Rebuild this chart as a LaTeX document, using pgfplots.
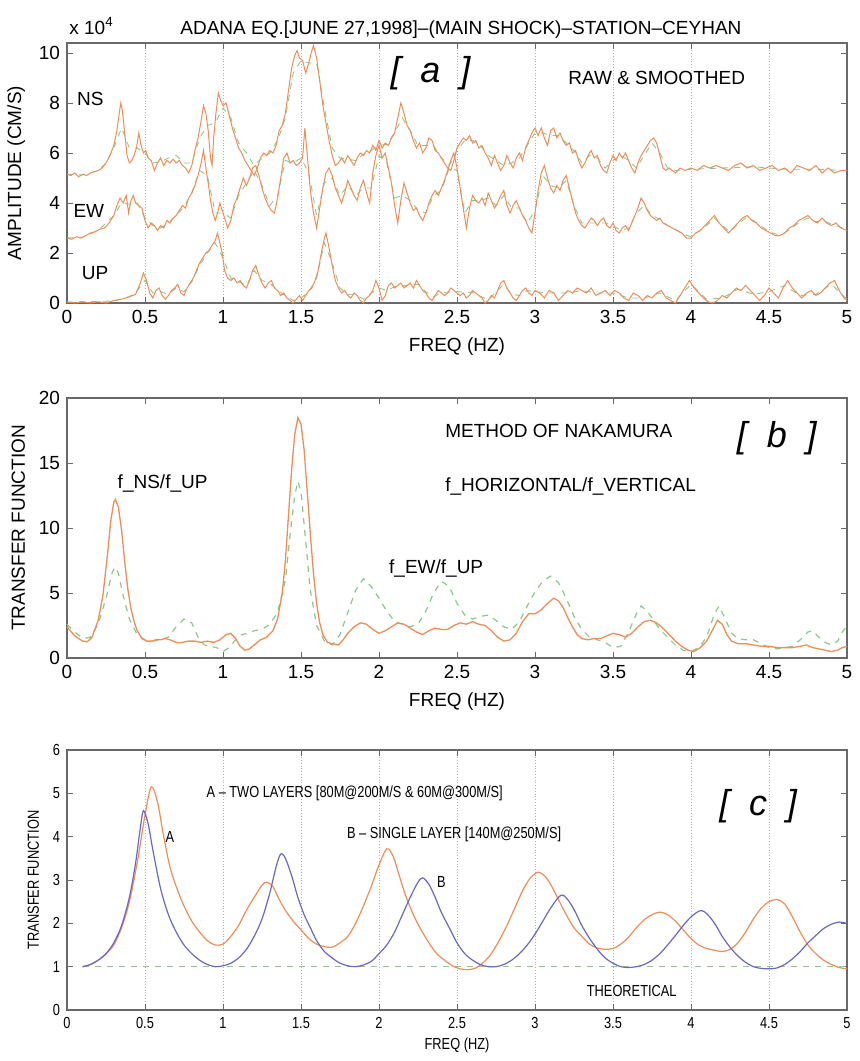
\documentclass[border=0pt]{standalone}
\usepackage{fontspec}
\setmainfont{Liberation Sans}
\newfontfamily\narrowfont[FakeStretch=0.8, Ligatures=TeX]{Liberation Sans}
\usepackage{pgfplots}
\pgfplotsset{compat=1.18}

\definecolor{matorange}{RGB}{236,142,88}
\definecolor{matgreen}{RGB}{140,200,140}
\definecolor{matblue}{RGB}{105,105,195}
\definecolor{axisgray}{RGB}{105,105,105}

\pgfplotsset{
  panel/.style={
    scale only axis, width=390pt, height=130pt,
    xmin=0, xmax=5, xtick={0,0.5,1,1.5,2,2.5,3,3.5,4,4.5,5},
    axis line style={draw=axisgray, line width=0.6pt},
    tick style={draw=axisgray, line width=0.5pt},
    major tick length=3pt,
    /pgf/number format/assume math mode=true,
    clip=false,
    xlabel={FREQ (HZ)},
  },
  bigfont/.style={
    tick label style={font=\fontsize{9.5}{11}\selectfont},
    label style={font=\fontsize{9.5}{11}\selectfont},
  },
  grid dots/.style={xmajorgrids, major grid style={densely dotted, gray!60, line width=0.4pt}},
  raw/.style={matorange, line width=0.5pt},
  smooth line/.style={matgreen, dashed, line width=0.45pt},
}
\newcommand{\txt}{\fontsize{9.5}{11}\selectfont}
\newcommand{\brk}[1]{\fontsize{18}{20}\selectfont\itshape [\hspace{0.55em}#1\hspace{0.55em}]}

\begin{document}
\begin{tikzpicture}
\useasboundingbox (0,0) rectangle (429.5pt,-530.5pt);

% ---------------- panel a
\begin{axis}[panel, bigfont, grid dots,
  at={(33.5pt,-151.5pt)}, anchor=south west,
  ymin=0, ymax=10.4, ytick={0,2,4,6,8,10},
  ylabel={AMPLITUDE (CM/S)},
]
% smoothed
\addplot[smooth line] coordinates {(0,5.15)(0.1,5.12)(0.2,5.3)(0.25,5.6)(0.3,6.2)(0.35,7.0)(0.4,6.2)(0.45,6.2)(0.5,6.0)(0.55,5.6)(0.6,5.65)(0.65,5.8)(0.7,5.9)(0.75,5.6)(0.8,5.6)(0.85,6.6)(0.9,7.1)(0.95,7.2)(1.0,7.8)(1.05,7.4)(1.1,6.4)(1.15,6.0)(1.2,5.5)(1.25,5.8)(1.3,6.0)(1.35,6.5)(1.4,7.4)(1.45,9.2)(1.5,9.7)(1.55,9.6)(1.6,9.6)(1.65,7.8)(1.7,6.2)(1.75,5.8)(1.8,5.75)(1.85,5.7)(1.9,5.95)(1.95,6.1)(2.0,6.3)(2.05,6.35)(2.1,6.8)(2.15,7.4)(2.2,6.9)(2.25,6.3)(2.3,6.3)(2.35,6.3)(2.4,5.8)(2.45,5.5)(2.5,6.1)(2.55,6.5)(2.6,6.5)(2.65,6.3)(2.7,5.9)(2.75,5.7)(2.8,5.5)(2.85,5.6)(2.9,5.8)(2.95,6.3)(3.0,6.8)(3.05,6.8)(3.1,6.7)(3.15,6.7)(3.2,6.4)(3.25,6.1)(3.3,5.6)(3.35,5.9)(3.4,5.8)(3.45,5.4)(3.5,5.7)(3.55,5.9)(3.6,5.7)(3.65,5.4)(3.7,5.9)(3.75,6.4)(3.8,6.0)(3.85,5.4)(3.9,5.3)(4.0,5.35)(4.2,5.4)(4.4,5.45)(4.6,5.35)(4.8,5.35)(5.0,5.3)};
\addplot[smooth line] coordinates {(0,2.6)(0.1,2.63)(0.2,2.9)(0.3,3.5)(0.35,4.0)(0.4,3.95)(0.45,4.0)(0.5,3.4)(0.55,3.1)(0.6,3.0)(0.65,3.2)(0.7,3.5)(0.75,3.85)(0.8,4.4)(0.85,5.3)(0.9,5.1)(0.95,3.6)(1.0,3.6)(1.05,3.4)(1.1,4.3)(1.15,4.8)(1.2,5.3)(1.25,4.7)(1.3,3.9)(1.35,4.3)(1.4,5.7)(1.45,5.6)(1.5,5.8)(1.55,5.2)(1.6,3.5)(1.65,4.8)(1.7,5.0)(1.75,4.3)(1.8,4.7)(1.85,4.3)(1.9,4.6)(1.95,4.6)(2.0,5.9)(2.05,5.6)(2.1,4.2)(2.15,4.3)(2.2,4.1)(2.25,3.7)(2.3,3.6)(2.35,4.3)(2.4,4.5)(2.45,5.4)(2.5,5.3)(2.55,3.6)(2.6,4.1)(2.65,4.1)(2.7,4.2)(2.75,3.9)(2.8,4.3)(2.85,3.8)(2.9,3.8)(2.95,3.2)(3.0,3.7)(3.05,5.1)(3.1,4.7)(3.15,4.6)(3.2,4.9)(3.25,3.9)(3.3,3.2)(3.35,3.2)(3.4,3.2)(3.45,3.2)(3.5,3.1)(3.55,2.9)(3.6,3.0)(3.65,3.6)(3.7,3.9)(3.75,3.5)(3.8,3.35)(3.85,3.1)(3.9,2.95)(3.95,2.75)(4.0,2.65)(4.1,3.1)(4.15,3.4)(4.2,3.1)(4.25,2.85)(4.3,3.15)(4.35,3.4)(4.4,3.3)(4.5,2.85)(4.55,2.75)(4.6,2.8)(4.7,3.25)(4.75,3.4)(4.8,3.25)(4.85,3.3)(4.9,3.15)(5.0,2.95)};
\addplot[smooth line] coordinates {(0,0.03)(0.3,0.08)(0.4,0.25)(0.45,0.5)(0.5,0.9)(0.55,0.4)(0.6,0.45)(0.65,0.35)(0.7,0.6)(0.75,0.45)(0.8,0.85)(0.85,1.5)(0.9,2.0)(0.95,2.4)(1.0,1.8)(1.05,1.0)(1.1,0.85)(1.15,0.7)(1.2,1.3)(1.25,0.9)(1.3,0.8)(1.35,0.5)(1.4,0.3)(1.45,0.1)(1.5,0.2)(1.55,0.45)(1.6,1.0)(1.65,2.4)(1.7,1.6)(1.75,0.6)(1.8,0.35)(1.85,0.35)(1.9,0.15)(1.95,0.4)(2.0,0.6)(2.05,0.5)(2.1,0.65)(2.2,0.72)(2.25,0.75)(2.3,0.45)(2.35,0.25)(2.4,0.42)(2.5,0.45)(2.6,0.42)(2.7,0.12)(2.8,0.75)(2.85,0.35)(2.9,0.3)(2.95,0.5)(3.0,0.45)(3.1,0.4)(3.2,0.4)(3.3,0.5)(3.4,0.4)(3.5,0.4)(3.6,0.2)(3.7,0.2)(3.8,0.4)(3.9,0.1)(4.0,0.75)(4.1,0.15)(4.2,0.2)(4.3,0.55)(4.4,0.35)(4.5,0.45)(4.6,0.7)(4.7,0.3)(4.8,0.35)(4.9,0.75)(5.0,0.15)};
% raw NS
\addplot[raw] coordinates {(0,5.15)(0.025,5.1)(0.05,5.2)(0.075,5.05)(0.1,5.15)(0.125,5.1)(0.15,5.2)(0.175,5.25)(0.2,5.3)(0.225,5.4)(0.25,5.6)(0.275,5.9)(0.3,6.3)(0.32,6.9)(0.335,7.6)(0.345,8.0)(0.355,7.7)(0.37,6.8)(0.385,5.9)(0.4,5.6)(0.415,5.7)(0.43,5.9)(0.445,6.2)(0.46,6.8)(0.475,6.3)(0.49,6.0)(0.505,6.1)(0.52,5.8)(0.54,5.7)(0.56,5.3)(0.58,5.6)(0.6,5.8)(0.62,5.5)(0.64,5.7)(0.66,5.6)(0.68,5.75)(0.7,5.6)(0.72,5.7)(0.74,5.5)(0.76,5.4)(0.78,5.2)(0.8,5.5)(0.82,6.1)(0.84,6.6)(0.86,7.3)(0.875,7.9)(0.89,7.6)(0.905,6.9)(0.92,5.8)(0.93,5.5)(0.94,6.6)(0.955,7.6)(0.97,8.4)(0.985,8.1)(1.0,7.9)(1.02,8.0)(1.04,7.5)(1.06,7.0)(1.08,6.6)(1.1,6.2)(1.12,6.0)(1.14,5.7)(1.16,5.5)(1.18,5.3)(1.2,5.1)(1.22,5.4)(1.24,5.8)(1.26,6.0)(1.28,5.9)(1.3,6.1)(1.32,6.0)(1.34,6.3)(1.36,6.9)(1.38,7.1)(1.4,7.6)(1.42,8.5)(1.44,9.4)(1.46,9.9)(1.475,10.1)(1.49,9.8)(1.51,9.7)(1.53,9.2)(1.55,9.6)(1.565,10.0)(1.58,10.3)(1.6,9.8)(1.62,8.9)(1.64,7.9)(1.66,7.2)(1.68,6.5)(1.7,5.9)(1.72,5.5)(1.74,5.6)(1.76,5.8)(1.78,5.6)(1.8,5.9)(1.82,5.7)(1.84,5.5)(1.86,5.8)(1.88,6.0)(1.9,5.9)(1.92,6.1)(1.94,6.0)(1.96,6.3)(1.98,6.1)(2.0,6.5)(2.02,6.2)(2.04,6.4)(2.06,6.3)(2.08,6.6)(2.1,6.8)(2.12,7.4)(2.14,8.0)(2.16,7.6)(2.18,7.1)(2.2,6.9)(2.22,6.5)(2.24,6.2)(2.26,6.4)(2.28,6.0)(2.3,6.2)(2.32,6.6)(2.34,6.5)(2.36,6.1)(2.38,6.0)(2.4,5.8)(2.42,5.6)(2.44,5.4)(2.46,5.3)(2.48,5.7)(2.5,6.2)(2.52,6.4)(2.54,6.6)(2.56,6.5)(2.58,6.7)(2.6,6.4)(2.62,6.5)(2.64,6.2)(2.66,6.3)(2.68,6.0)(2.7,5.8)(2.72,5.5)(2.74,5.9)(2.76,5.6)(2.78,5.3)(2.8,5.5)(2.82,5.9)(2.84,5.6)(2.86,5.4)(2.88,5.8)(2.9,6.0)(2.92,5.7)(2.94,6.2)(2.96,6.5)(2.98,6.8)(3.0,7.0)(3.02,6.7)(3.04,7.0)(3.06,6.6)(3.08,6.3)(3.1,6.9)(3.12,7.0)(3.14,6.6)(3.16,6.8)(3.18,6.5)(3.2,6.3)(3.22,6.4)(3.24,6.0)(3.26,6.1)(3.28,5.7)(3.3,5.4)(3.32,5.6)(3.34,5.9)(3.36,6.1)(3.38,5.8)(3.4,5.9)(3.42,5.5)(3.44,5.3)(3.46,5.2)(3.48,5.6)(3.5,5.9)(3.52,5.7)(3.54,6.0)(3.56,5.8)(3.58,6.0)(3.6,5.7)(3.62,5.4)(3.64,5.2)(3.66,5.6)(3.68,5.9)(3.7,6.1)(3.72,6.3)(3.74,6.5)(3.76,6.6)(3.78,6.4)(3.8,5.9)(3.82,5.4)(3.84,5.3)(3.86,5.4)(3.88,5.3)(3.9,5.2)(3.93,5.4)(3.96,5.3)(4.0,5.4)(4.04,5.3)(4.08,5.5)(4.12,5.4)(4.16,5.5)(4.2,5.4)(4.24,5.3)(4.28,5.5)(4.32,5.6)(4.36,5.4)(4.4,5.5)(4.44,5.3)(4.48,5.4)(4.52,5.5)(4.56,5.3)(4.6,5.4)(4.64,5.2)(4.68,5.5)(4.72,5.4)(4.76,5.3)(4.8,5.5)(4.84,5.2)(4.88,5.4)(4.92,5.2)(4.96,5.3)(5.0,5.3)};
% raw EW
\addplot[raw] coordinates {(0,2.6)(0.03,2.55)(0.06,2.65)(0.09,2.6)(0.12,2.7)(0.15,2.8)(0.18,2.85)(0.21,2.95)(0.24,3.0)(0.27,3.2)(0.3,3.5)(0.32,3.9)(0.34,4.2)(0.36,4.0)(0.38,4.3)(0.395,3.6)(0.41,4.1)(0.425,4.3)(0.44,4.0)(0.46,3.9)(0.48,3.8)(0.5,3.3)(0.52,3.0)(0.54,3.2)(0.56,3.1)(0.58,2.9)(0.6,3.1)(0.62,3.0)(0.64,3.3)(0.66,3.2)(0.68,3.4)(0.7,3.5)(0.72,3.7)(0.74,3.9)(0.76,3.8)(0.78,4.2)(0.8,4.4)(0.82,4.7)(0.84,5.1)(0.86,5.6)(0.875,6.1)(0.89,5.4)(0.905,4.8)(0.92,4.1)(0.935,3.6)(0.95,3.3)(0.965,3.6)(0.98,4.0)(0.995,3.7)(1.01,3.4)(1.03,3.0)(1.05,3.3)(1.07,3.9)(1.09,4.2)(1.11,4.6)(1.13,5.0)(1.15,4.7)(1.17,5.0)(1.19,5.4)(1.21,5.5)(1.23,5.1)(1.25,4.6)(1.27,4.2)(1.29,3.9)(1.31,3.7)(1.33,3.6)(1.35,4.2)(1.37,5.0)(1.39,5.8)(1.41,6.0)(1.43,5.6)(1.45,5.7)(1.47,5.5)(1.49,5.6)(1.51,5.8)(1.525,7.0)(1.54,5.9)(1.56,4.5)(1.58,3.6)(1.6,3.0)(1.62,3.8)(1.64,4.6)(1.66,5.2)(1.68,5.4)(1.7,5.1)(1.72,4.6)(1.74,4.3)(1.76,4.0)(1.78,4.4)(1.8,4.9)(1.82,4.6)(1.84,4.3)(1.86,4.1)(1.88,4.6)(1.9,4.9)(1.92,4.4)(1.94,4.0)(1.96,5.2)(1.98,5.9)(2.0,6.3)(2.02,5.8)(2.04,6.0)(2.06,5.4)(2.08,4.8)(2.1,3.9)(2.12,3.2)(2.14,4.1)(2.16,4.8)(2.18,4.4)(2.2,4.0)(2.22,3.7)(2.24,3.8)(2.26,3.5)(2.28,3.3)(2.3,3.6)(2.32,4.0)(2.34,4.3)(2.36,4.5)(2.38,4.3)(2.4,4.6)(2.42,4.9)(2.44,5.3)(2.46,5.7)(2.48,6.0)(2.5,5.4)(2.52,4.6)(2.54,3.8)(2.56,3.0)(2.58,3.8)(2.6,4.3)(2.62,4.1)(2.64,4.0)(2.66,4.2)(2.68,3.9)(2.7,4.4)(2.72,4.1)(2.74,3.8)(2.76,4.0)(2.78,4.3)(2.8,4.5)(2.82,3.9)(2.84,3.6)(2.86,3.9)(2.88,4.1)(2.9,3.8)(2.92,3.5)(2.94,3.3)(2.96,3.0)(2.98,2.8)(3.0,3.6)(3.02,4.5)(3.04,5.2)(3.06,5.5)(3.08,5.0)(3.1,4.6)(3.12,4.4)(3.14,4.7)(3.16,4.5)(3.18,4.9)(3.2,5.1)(3.22,4.6)(3.24,4.1)(3.26,3.6)(3.28,3.3)(3.3,3.1)(3.32,3.0)(3.34,3.2)(3.36,3.4)(3.38,3.3)(3.4,3.1)(3.42,3.3)(3.44,3.4)(3.46,3.1)(3.48,3.0)(3.5,3.2)(3.52,2.9)(3.54,2.8)(3.56,3.0)(3.58,3.1)(3.6,2.9)(3.62,3.2)(3.64,3.5)(3.66,3.8)(3.68,4.2)(3.7,4.0)(3.72,3.7)(3.74,3.5)(3.76,3.4)(3.78,3.3)(3.8,3.4)(3.82,3.2)(3.85,3.1)(3.88,3.0)(3.91,2.9)(3.94,2.8)(3.97,2.6)(4.0,2.6)(4.03,2.8)(4.06,2.9)(4.09,3.1)(4.12,3.3)(4.15,3.5)(4.18,3.2)(4.21,3.0)(4.24,2.8)(4.27,3.0)(4.3,3.2)(4.33,3.4)(4.36,3.5)(4.39,3.3)(4.42,3.2)(4.45,3.0)(4.48,2.9)(4.51,2.8)(4.54,2.7)(4.57,2.7)(4.6,2.8)(4.63,3.0)(4.66,3.1)(4.69,3.3)(4.72,3.4)(4.75,3.5)(4.78,3.3)(4.81,3.2)(4.84,3.4)(4.87,3.2)(4.9,3.1)(4.93,3.2)(4.96,3.0)(5.0,2.9)};
% raw UP
\addplot[raw] coordinates {(0,0.05)(0.05,0.0)(0.1,0.05)(0.15,0.0)(0.2,0.05)(0.25,0.0)(0.3,0.1)(0.35,0.15)(0.4,0.25)(0.44,0.35)(0.47,0.8)(0.49,1.2)(0.51,0.9)(0.53,0.4)(0.55,0.2)(0.57,0.5)(0.59,0.6)(0.61,0.3)(0.63,0.15)(0.65,0.3)(0.67,0.5)(0.69,0.6)(0.71,0.75)(0.73,0.4)(0.75,0.3)(0.77,0.6)(0.79,0.8)(0.81,1.0)(0.83,1.3)(0.85,1.6)(0.87,1.8)(0.89,2.0)(0.91,2.1)(0.93,2.3)(0.95,2.5)(0.965,2.8)(0.98,2.4)(0.995,2.0)(1.01,1.3)(1.03,1.0)(1.05,0.9)(1.07,1.0)(1.09,0.8)(1.11,0.9)(1.13,0.7)(1.15,0.6)(1.17,0.9)(1.19,1.3)(1.21,1.5)(1.23,1.1)(1.25,0.8)(1.27,0.6)(1.29,0.8)(1.31,0.9)(1.33,0.6)(1.35,0.5)(1.37,0.3)(1.39,0.4)(1.41,0.2)(1.43,0.1)(1.45,0.0)(1.47,0.15)(1.49,0.3)(1.51,0.1)(1.53,0.3)(1.55,0.5)(1.57,0.6)(1.59,0.9)(1.61,1.3)(1.63,2.0)(1.65,2.6)(1.66,2.8)(1.68,2.2)(1.7,1.5)(1.72,0.9)(1.74,0.6)(1.76,0.4)(1.78,0.5)(1.8,0.3)(1.82,0.2)(1.84,0.4)(1.86,0.3)(1.88,0.1)(1.9,0.0)(1.92,0.2)(1.94,0.3)(1.96,0.5)(1.98,0.9)(2.0,0.6)(2.02,0.1)(2.04,0.3)(2.06,0.7)(2.08,0.8)(2.1,0.6)(2.12,0.7)(2.14,0.8)(2.16,0.6)(2.18,0.7)(2.2,0.8)(2.22,0.6)(2.24,0.9)(2.26,0.7)(2.28,0.5)(2.3,0.4)(2.32,0.2)(2.34,0.1)(2.36,0.3)(2.38,0.5)(2.4,0.4)(2.42,0.3)(2.44,0.4)(2.46,0.6)(2.48,0.5)(2.5,0.4)(2.52,0.3)(2.54,0.4)(2.56,0.2)(2.58,0.3)(2.6,0.5)(2.62,0.4)(2.64,0.3)(2.66,0.2)(2.68,0.0)(2.7,0.1)(2.72,0.3)(2.74,0.2)(2.76,0.5)(2.78,0.8)(2.8,0.9)(2.82,0.6)(2.84,0.4)(2.86,0.2)(2.88,0.1)(2.9,0.3)(2.92,0.5)(2.94,0.6)(2.96,0.4)(2.98,0.3)(3.0,0.5)(3.03,0.4)(3.06,0.2)(3.09,0.5)(3.12,0.4)(3.15,0.1)(3.18,0.3)(3.21,0.5)(3.24,0.4)(3.27,0.6)(3.3,0.5)(3.33,0.4)(3.36,0.6)(3.39,0.3)(3.42,0.4)(3.45,0.5)(3.48,0.3)(3.51,0.5)(3.54,0.4)(3.57,0.2)(3.6,0.1)(3.63,0.4)(3.66,0.3)(3.69,0.1)(3.72,0.3)(3.75,0.2)(3.78,0.4)(3.81,0.5)(3.84,0.2)(3.87,0.1)(3.9,0.0)(3.93,0.3)(3.96,0.6)(3.99,0.9)(4.02,0.6)(4.05,0.4)(4.08,0.2)(4.11,0.05)(4.14,0.0)(4.17,0.1)(4.2,0.3)(4.23,0.2)(4.26,0.4)(4.29,0.6)(4.32,0.5)(4.35,0.7)(4.38,0.5)(4.41,0.3)(4.44,0.1)(4.47,0.3)(4.5,0.6)(4.53,0.4)(4.56,0.2)(4.59,0.6)(4.62,0.9)(4.65,0.6)(4.68,0.4)(4.71,0.2)(4.74,0.4)(4.77,0.5)(4.8,0.3)(4.83,0.4)(4.86,0.6)(4.89,0.8)(4.92,0.9)(4.95,0.5)(4.98,0.2)(5.0,0.1)};
\node[font=\txt] at (axis cs:0.15,8.15) {NS};
\node[font=\txt] at (axis cs:0.14,3.7) {EW};
\node[font=\txt] at (axis cs:0.18,1.2) {UP};
\node at (axis cs:2.33,9.2) {\brk{a}};
\node[font=\txt] at (axis cs:3.78,9.0) {RAW \& SMOOTHED};
\node[font=\txt, anchor=base west, inner sep=0pt, yshift=4.5pt, xshift=1pt] at (rel axis cs:0,1) {x 10\textsuperscript{4}};
\node[font=\txt, anchor=base, inner sep=0pt, yshift=4.5pt] at (rel axis cs:0.505,1) {ADANA EQ.[JUNE 27,1998]--(MAIN SHOCK)--STATION--CEYHAN};
\end{axis}

% ---------------- panel b
\begin{axis}[panel, bigfont,
  at={(33.5pt,-329pt)}, anchor=south west,
  ymin=0, ymax=20, ytick={0,5,10,15,20},
  ylabel={TRANSFER FUNCTION},
]
\addplot[matgreen, dashed, line width=0.6pt] coordinates {(0,2.6)(0.05,2.0)(0.1,1.5)(0.15,1.6)(0.2,2.6)(0.25,4.6)(0.29,6.6)(0.31,7.0)(0.33,6.5)(0.36,4.8)(0.4,3.0)(0.45,1.8)(0.5,1.4)(0.55,1.3)(0.6,1.4)(0.65,1.6)(0.7,2.4)(0.75,3.0)(0.8,2.7)(0.84,1.6)(0.88,1.0)(0.92,0.9)(0.96,0.8)(1.0,0.5)(1.04,0.8)(1.08,1.4)(1.12,1.8)(1.16,1.9)(1.2,2.1)(1.25,2.2)(1.3,2.6)(1.35,3.5)(1.4,6.0)(1.43,9.5)(1.46,12.5)(1.48,13.6)(1.5,12.8)(1.53,9.0)(1.56,5.2)(1.6,2.5)(1.65,1.3)(1.7,1.0)(1.75,1.8)(1.8,3.5)(1.85,5.2)(1.9,6.1)(1.95,5.5)(2.0,4.6)(2.05,3.6)(2.1,2.8)(2.15,2.6)(2.2,2.4)(2.25,2.6)(2.3,3.6)(2.35,5.0)(2.4,5.9)(2.45,5.5)(2.5,4.2)(2.55,3.3)(2.6,3.0)(2.65,3.2)(2.7,3.3)(2.75,2.9)(2.8,2.4)(2.85,2.2)(2.9,2.8)(2.95,4.0)(3.0,5.1)(3.05,5.9)(3.1,6.3)(3.15,5.8)(3.2,4.6)(3.25,3.2)(3.3,2.2)(3.35,1.6)(3.4,1.4)(3.45,1.2)(3.5,0.8)(3.55,0.9)(3.6,2.0)(3.65,3.4)(3.68,4.0)(3.72,3.6)(3.76,2.9)(3.8,2.2)(3.85,1.6)(3.9,1.0)(3.95,0.6)(4.0,0.5)(4.05,0.8)(4.1,1.6)(4.15,3.4)(4.18,4.0)(4.22,3.0)(4.26,1.9)(4.3,1.5)(4.35,1.4)(4.4,1.4)(4.45,1.1)(4.5,0.8)(4.55,0.7)(4.6,0.8)(4.65,0.9)(4.7,1.4)(4.75,2.0)(4.78,2.1)(4.82,1.6)(4.86,1.2)(4.9,1.0)(4.94,1.3)(4.97,2.0)(5.0,2.5)};
\addplot[matorange, line width=0.65pt] coordinates {(0,2.4)(0.05,1.7)(0.1,1.3)(0.13,1.25)(0.16,1.6)(0.2,2.9)(0.23,4.8)(0.26,8.0)(0.28,10.5)(0.3,12.0)(0.31,12.2)(0.33,11.6)(0.35,9.8)(0.37,7.4)(0.39,5.3)(0.41,3.8)(0.43,2.8)(0.45,2.1)(0.48,1.5)(0.51,1.3)(0.54,1.3)(0.57,1.4)(0.6,1.4)(0.63,1.5)(0.66,1.4)(0.7,1.2)(0.74,1.2)(0.78,1.3)(0.82,1.3)(0.86,1.2)(0.9,1.3)(0.94,1.2)(0.98,1.4)(1.02,1.8)(1.05,1.9)(1.08,1.5)(1.11,0.9)(1.14,0.6)(1.17,0.7)(1.2,1.0)(1.24,1.4)(1.28,1.6)(1.32,2.1)(1.35,3.0)(1.38,5.0)(1.4,7.5)(1.42,11.0)(1.44,14.5)(1.46,17.2)(1.48,18.5)(1.5,18.0)(1.52,16.0)(1.54,12.8)(1.56,9.5)(1.58,6.5)(1.6,4.2)(1.62,2.7)(1.64,1.8)(1.67,1.2)(1.7,1.1)(1.74,1.0)(1.77,1.4)(1.8,1.9)(1.84,2.4)(1.88,2.7)(1.92,2.6)(1.96,2.2)(2.0,1.9)(2.04,2.1)(2.08,2.4)(2.12,2.7)(2.16,2.6)(2.2,2.3)(2.24,2.0)(2.28,1.8)(2.32,2.1)(2.36,2.3)(2.4,2.2)(2.44,2.2)(2.48,2.5)(2.52,2.7)(2.56,2.6)(2.6,2.8)(2.64,2.6)(2.68,2.5)(2.72,2.1)(2.76,1.6)(2.8,1.3)(2.84,1.4)(2.88,1.9)(2.92,2.8)(2.96,3.4)(3.0,3.4)(3.04,3.7)(3.08,4.2)(3.12,4.6)(3.15,4.4)(3.18,3.9)(3.21,3.1)(3.24,2.4)(3.27,1.8)(3.3,1.5)(3.34,1.4)(3.38,1.5)(3.42,1.5)(3.46,1.7)(3.5,1.9)(3.54,1.8)(3.58,1.6)(3.62,1.9)(3.66,2.4)(3.7,2.8)(3.74,2.9)(3.78,2.7)(3.82,2.3)(3.86,1.8)(3.9,1.3)(3.94,0.9)(3.98,0.6)(4.02,0.5)(4.06,0.8)(4.1,1.3)(4.14,2.2)(4.17,2.9)(4.2,2.6)(4.23,1.8)(4.26,1.3)(4.3,1.1)(4.35,1.1)(4.4,1.0)(4.45,0.9)(4.5,0.9)(4.55,0.8)(4.6,0.8)(4.65,0.8)(4.7,0.9)(4.74,1.0)(4.78,0.8)(4.82,0.7)(4.86,0.6)(4.9,0.5)(4.94,0.6)(4.97,0.8)(5.0,0.9)};
\node[font=\txt, anchor=west] at (axis cs:2.38,17.5) {METHOD OF NAKAMURA};
\node[font=\txt, anchor=west] at (axis cs:2.38,13.2) {f\_HORIZONTAL/f\_VERTICAL};
\node at (axis cs:4.55,16.9) {\brk{b}};
\node[font=\txt, anchor=west] at (axis cs:0.28,13.4) {f\_NS/f\_UP};
\node[font=\txt, anchor=west] at (axis cs:2.02,6.9) {f\_EW/f\_UP};
\end{axis}

% ---------------- panel c
\begin{axis}[panel, grid dots,
  at={(33.5pt,-505pt)}, anchor=south west,
  ymin=0, ymax=6, ytick={0,1,2,3,4,5,6},
  ylabel={TRANSFER FUNCTION},
  tick label style={font=\narrowfont\fontsize{8}{9}\selectfont},
  label style={font=\narrowfont\fontsize{8}{9}\selectfont},
  xlabel style={yshift=2pt},
]
\addplot[matgreen, dashed, line width=0.6pt] coordinates {(0.1,1)(5,1)};
\addplot[matorange, line width=0.6pt, smooth] coordinates {(0.1,1.0)(0.15,1.05)(0.2,1.15)(0.25,1.3)(0.3,1.5)(0.35,1.9)(0.4,2.5)(0.45,3.4)(0.5,4.5)(0.54,5.15)(0.58,4.8)(0.62,4.0)(0.66,3.3)(0.7,2.85)(0.75,2.4)(0.8,2.05)(0.85,1.8)(0.9,1.6)(0.95,1.5)(1.0,1.52)(1.05,1.7)(1.1,1.95)(1.15,2.3)(1.2,2.6)(1.25,2.88)(1.28,2.95)(1.32,2.85)(1.36,2.55)(1.4,2.3)(1.45,2.05)(1.5,1.85)(1.55,1.65)(1.6,1.52)(1.65,1.46)(1.7,1.45)(1.75,1.55)(1.8,1.7)(1.85,2.0)(1.9,2.4)(1.95,2.85)(2.0,3.35)(2.05,3.72)(2.09,3.55)(2.13,3.1)(2.17,2.65)(2.22,2.2)(2.27,1.85)(2.32,1.55)(2.37,1.3)(2.42,1.15)(2.47,1.02)(2.52,0.95)(2.57,0.93)(2.62,0.97)(2.67,1.1)(2.72,1.3)(2.77,1.6)(2.82,1.95)(2.87,2.35)(2.92,2.75)(2.97,3.05)(3.02,3.18)(3.06,3.1)(3.1,2.9)(3.15,2.55)(3.2,2.2)(3.25,1.9)(3.3,1.7)(3.35,1.52)(3.4,1.43)(3.45,1.4)(3.5,1.42)(3.55,1.52)(3.6,1.68)(3.65,1.9)(3.7,2.08)(3.75,2.2)(3.8,2.26)(3.85,2.2)(3.9,2.05)(3.95,1.85)(4.0,1.65)(4.05,1.5)(4.1,1.42)(4.15,1.38)(4.2,1.35)(4.25,1.4)(4.3,1.55)(4.35,1.8)(4.4,2.1)(4.45,2.35)(4.5,2.5)(4.55,2.55)(4.6,2.45)(4.65,2.15)(4.7,1.8)(4.75,1.5)(4.8,1.3)(4.85,1.15)(4.9,1.05)(4.95,0.98)(5.0,0.95)};
\addplot[matblue, line width=0.6pt, smooth] coordinates {(0.1,1.0)(0.15,1.05)(0.2,1.15)(0.25,1.3)(0.3,1.55)(0.35,1.95)(0.4,2.6)(0.44,3.4)(0.47,4.2)(0.49,4.6)(0.52,4.3)(0.55,3.7)(0.6,2.8)(0.65,2.2)(0.7,1.8)(0.75,1.5)(0.8,1.3)(0.85,1.15)(0.9,1.05)(0.95,1.0)(1.0,1.02)(1.05,1.08)(1.1,1.2)(1.15,1.4)(1.2,1.7)(1.25,2.1)(1.3,2.7)(1.34,3.3)(1.37,3.6)(1.4,3.5)(1.44,3.1)(1.48,2.6)(1.52,2.2)(1.56,1.9)(1.6,1.6)(1.65,1.35)(1.7,1.2)(1.75,1.08)(1.8,1.02)(1.85,1.0)(1.9,1.04)(1.95,1.12)(2.0,1.3)(2.05,1.5)(2.1,1.8)(2.15,2.2)(2.2,2.6)(2.25,2.95)(2.28,3.05)(2.32,2.9)(2.36,2.6)(2.4,2.25)(2.45,1.9)(2.5,1.55)(2.55,1.3)(2.6,1.15)(2.65,1.05)(2.7,1.0)(2.75,1.0)(2.8,1.05)(2.85,1.15)(2.9,1.3)(2.95,1.5)(3.0,1.75)(3.05,2.05)(3.1,2.35)(3.15,2.6)(3.18,2.65)(3.22,2.5)(3.26,2.25)(3.3,1.95)(3.35,1.65)(3.4,1.4)(3.45,1.2)(3.5,1.08)(3.55,1.0)(3.6,0.98)(3.65,1.0)(3.7,1.05)(3.75,1.15)(3.8,1.3)(3.85,1.5)(3.9,1.72)(3.95,1.95)(4.0,2.15)(4.05,2.28)(4.08,2.28)(4.12,2.15)(4.16,1.95)(4.2,1.7)(4.25,1.45)(4.3,1.25)(4.35,1.1)(4.4,1.0)(4.45,0.96)(4.5,0.95)(4.55,0.97)(4.6,1.05)(4.65,1.18)(4.7,1.35)(4.75,1.55)(4.8,1.72)(4.85,1.88)(4.9,1.98)(4.95,2.03)(5.0,2.0)};
\node[font=\narrowfont\fontsize{8}{9}\selectfont, anchor=west] at (axis cs:0.85,5.0) {A -- TWO LAYERS [80M@200M/S \& 60M@300M/S]};
\node[font=\narrowfont\fontsize{8}{9}\selectfont, anchor=west] at (axis cs:1.75,4.05) {B -- SINGLE LAYER [140M@250M/S]};
\node[font=\narrowfont\fontsize{8}{9}\selectfont] at (axis cs:0.66,4.0) {A};
\node[font=\narrowfont\fontsize{8}{9}\selectfont] at (axis cs:2.4,2.95) {B};
\node[font=\narrowfont\fontsize{8}{9}\selectfont] at (axis cs:3.62,0.45) {THEORETICAL};
\node at (axis cs:4.43,4.7) {\brk{c}};
\end{axis}
\end{tikzpicture}
\end{document}
